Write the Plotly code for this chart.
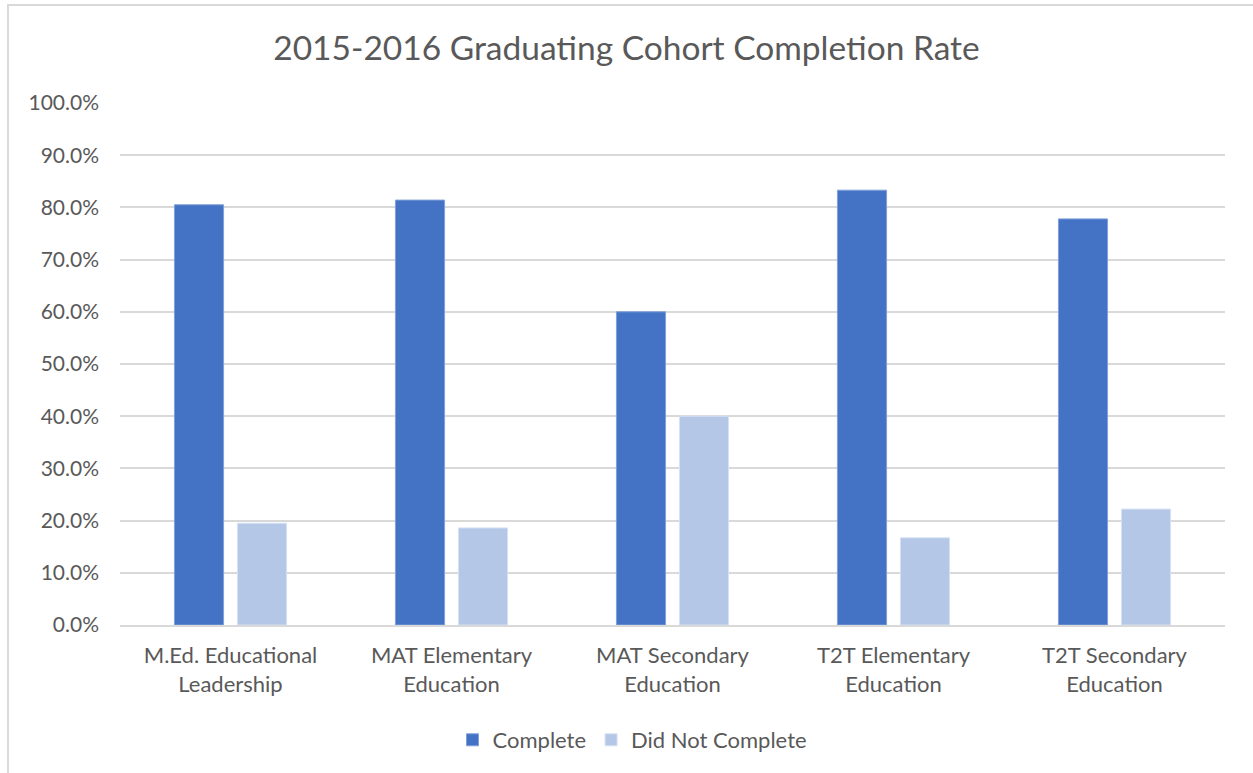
import plotly.graph_objects as go

categories = ["M.Ed. Educational<br>Leadership", "MAT Elementary<br>Education",
              "MAT Secondary<br>Education", "T2T Elementary<br>Education",
              "T2T Secondary<br>Education"]
complete = [0.805, 0.814, 0.600, 0.833, 0.778]
not_complete = [0.195, 0.186, 0.400, 0.167, 0.222]
y_ticks = [i / 10 for i in range(11)]

FONT = "Lato"
GREY = "#595959"

fig = go.Figure()
fig.add_trace(go.Bar(name="Complete", x=categories, y=complete,
                     marker=dict(color="#4472C4", line=dict(color="#7FA0DA", width=1))))
fig.add_trace(go.Bar(name="Did Not Complete", x=categories, y=not_complete,
                     marker=dict(color="#B4C7E7", line=dict(color="#D6E1F3", width=1))))

fig.update_layout(
    width=1253, height=773,
    paper_bgcolor="white", plot_bgcolor="white",
    margin=dict(l=120, r=28, t=103, b=148),
    barmode="group", bargap=0.43, bargroupgap=0.22,
    title=dict(text="2015-2016 Graduating Cohort Completion Rate",
               x=0.5, xanchor="center", y=0.938, yanchor="middle",
               font=dict(family=FONT, size=33.5, color=GREY)),
    font=dict(family=FONT, size=21, color=GREY),
    legend=dict(orientation="h", x=0.5 - 40 / 1105, xanchor="center",
                y=(625 - 740) / 522, yanchor="middle",
                font=dict(family=FONT, size=22, color=GREY), traceorder="normal"),
    showlegend=True,
)
fig.update_yaxes(range=[0, 1], tickvals=y_ticks, tickformat=".1%",
                 showgrid=True, gridcolor="#D9D9D9", gridwidth=1.5,
                 zeroline=False, showline=False, ticks="", ticklen=0,
                 ticklabelstandoff=20,
                 tickfont=dict(family=FONT, size=21, color=GREY))
fig.update_xaxes(showline=True, linecolor="#D9D9D9", linewidth=1.5, ticks="",
                 ticklabelstandoff=10,
                 tickfont=dict(family=FONT, size=22, color=GREY))

# outer chart border (left and top edges visible, others run off the image)
fig.add_shape(type="rect", xref="paper", yref="paper",
              x0=(8 - 120) / 1105, x1=(1270 - 120) / 1105,
              y0=(625 - 790) / 522, y1=(625 - 5) / 522,
              line=dict(color="#D9D9D9", width=2), layer="below")

fig.write_html("out.html", config={"displayModeBar": False},
               post_script="document.body.style.margin='0';")
